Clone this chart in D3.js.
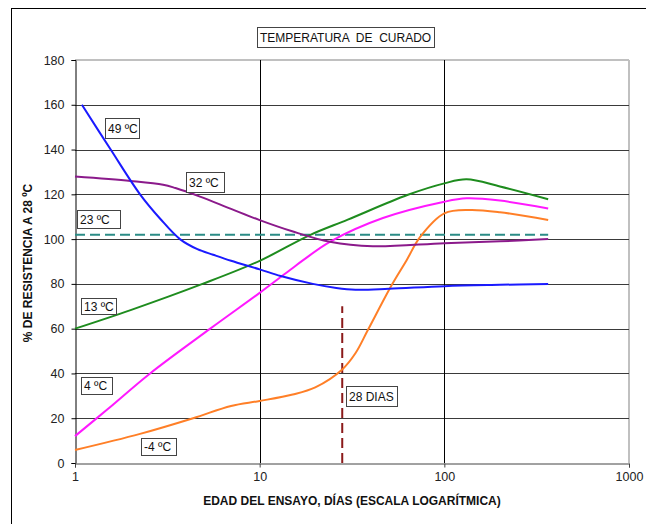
<!DOCTYPE html>
<html><head><meta charset="utf-8">
<script src="https://cdn.jsdelivr.net/npm/d3@7"></script>
<style>body{margin:0;background:#fff}svg{display:block;font-family:"Liberation Sans",Arial,sans-serif}</style>
</head><body><svg id="c" width="646" height="524"></svg>
<script>
const xTicks = [1, 10, 100, 1000];
const yTicks = [0, 20, 40, 60, 80, 100, 120, 140, 160, 180];
const s49 = [[1.09,160],[1.56,140],[2.25,120],[2.9,109],[3.7,100],[4.6,95.5],[5.6,93],[7,90.3],[10,86.5],[13,83.5],[19.4,80],[26,78.2],[33,77.4],[50,77.8],[100,79],[200,79.6],[365,80]];
const s32 = [[1,128],[2,126],[3,124.3],[3.5,122.8],[4.75,119],[7,113.5],[10,108.5],[15,103.5],[24,98.8],[41,96.8],[100,98.2],[200,99],[365,100]];
const s13 = [[1,60],[2,68.3],[4.9,80],[10,90.3],[18.7,101.8],[30,108.7],[63,119.7],[100,124.9],[132,126.7],[200,123.5],[365,117.8]];
const s4 = [[1,12],[1.5,24],[2.55,40],[5.4,60],[10,76],[14.6,86.2],[17.2,90.6],[24,98.8],[46.5,109.4],[100,116.7],[132,118.2],[200,117.2],[365,113.7]];
const sM4 = [[1,5.8],[2.25,13],[4.36,20],[7,25.5],[10,27.7],[15.1,30.6],[20,33.8],[28,41.8],[33,49],[38.6,59.5],[51.9,79.5],[62.5,90.6],[74,101],[100,111.5],[138,113],[200,112],[365,108.5]];
const s23 = [[1,102],[365,102]];
const ref28 = [[28,0],[28,70]];
const seriesNames = ["49 ºC","32 ºC","13 ºC","4 ºC","-4 ºC","23 ºC"];
const titleText = "TEMPERATURA  DE  CURADO";
const xTitle = "EDAD DEL ENSAYO, DÍAS (ESCALA LOGARÍTMICA)";
const yTitle = "% DE RESISTENCIA A 28 ºC";

const svg = d3.select("#c");
const L=75,R=629,T=60,B=463;
const x = d3.scaleLog().domain([1,1000]).range([L,R]);
const y = d3.scaleLinear().domain([0,180]).range([B,T]);

// outer frame
svg.append("rect").attr("x",11.5).attr("y",8.5).attr("width",700).attr("height",600)
  .attr("fill","none").attr("stroke","#000").attr("stroke-width",1);

// plot border top/right
svg.append("line").attr("x1",L).attr("x2",R).attr("y1",T).attr("y2",T).attr("stroke","#c0c0c0").attr("stroke-width",2);
svg.append("line").attr("x1",R).attr("x2",R).attr("y1",T).attr("y2",B).attr("stroke","#c0c0c0").attr("stroke-width",2);

// horizontal grid
svg.append("g").selectAll("line").data(yTicks.filter(d=>d>0&&d<180)).join("line")
  .attr("x1",L).attr("x2",R).attr("y1",d=>Math.round(y(d))+0.5).attr("y2",d=>Math.round(y(d))+0.5)
  .attr("stroke","#3a3a3a").attr("stroke-width",1);
// vertical grid
svg.append("g").selectAll("line").data([10,100]).join("line")
  .attr("x1",d=>Math.round(x(d))+0.5).attr("x2",d=>Math.round(x(d))+0.5).attr("y1",T).attr("y2",B)
  .attr("stroke","#000").attr("stroke-width",1);

// axes
const yAxis = d3.axisLeft(y).tickValues(yTicks).tickSize(4).tickPadding(7).tickFormat(d3.format("d"));
const gy = svg.append("g").attr("transform",`translate(${L+0.5},0)`).call(yAxis);
gy.select(".domain").attr("stroke","#000");
gy.selectAll(".tick line").attr("stroke","#000");
gy.selectAll("text").attr("font-size","12.5px").attr("fill","#222").attr("font-family","Liberation Sans, Arial, sans-serif");

const xAxis = d3.axisBottom(x).tickValues(xTicks).tickSize(4).tickPadding(5).tickFormat(d3.format("d"));
const gx = svg.append("g").attr("transform",`translate(0,${B+0.5})`).call(xAxis);
gx.select(".domain").attr("stroke","#444");
gx.selectAll(".tick line").attr("stroke","#444");
gx.selectAll("text").attr("font-size","12.5px").attr("fill","#222").attr("font-family","Liberation Sans, Arial, sans-serif");

// titles
svg.append("text").attr("x",(L+R)/2).attr("y",505).attr("text-anchor","middle")
  .attr("font-weight","bold").attr("font-size","12px").attr("fill","#111").text(xTitle);
svg.append("text").attr("transform","translate(32,263) rotate(-90)").attr("text-anchor","middle")
  .attr("font-weight","bold").attr("font-size","12px").attr("fill","#111").text(yTitle);

const line = d3.line().x(d=>x(d[0])).y(d=>y(d[1])).curve(d3.curveCatmullRom.alpha(0.5));

// reference lines
svg.append("path").datum(s23).attr("d",d3.line().x(d=>x(d[0])).y(d=>y(d[1]))).attr("fill","none")
  .attr("stroke","#2b8c86").attr("stroke-width",2).attr("stroke-dasharray","10,5");
svg.append("path").datum(ref28).attr("d",d3.line().x(d=>x(d[0])).y(d=>y(d[1]))).attr("fill","none")
  .attr("stroke","#8b1a1a").attr("stroke-width",2).attr("stroke-dasharray","10,5");

const curves = [[sM4,"#ff7f27"],[s4,"#ff19ff"],[s13,"#1e8c1e"],[s32,"#8b1a8b"],[s49,"#1a1aff"]];
curves.forEach(([d,c])=>{
  svg.append("path").datum(d).attr("d",line).attr("fill","none").attr("stroke",c).attr("stroke-width",2);
});

// label boxes
function box(x0,y0,w,h,txt){
  svg.append("rect").attr("x",x0+0.5).attr("y",y0+0.5).attr("width",w).attr("height",h)
    .attr("fill","#fff").attr("stroke","#444").attr("stroke-width",1);
  svg.append("text").attr("x",x0+3).attr("y",y0+h/2+4.5).attr("font-size","12px").attr("fill","#111")
    .style("white-space","pre").text(txt);
}
box(105,118,34,20,seriesNames[0]);
box(186,172,38,20,seriesNames[1]);
box(77,210,43,18,seriesNames[5]);
box(81,298,35,16,seriesNames[2]);
box(81,377,31,17,seriesNames[3]);
box(141,438,35,17,seriesNames[4]);
box(346,386,51,20,"28 DIAS");
box(257,27,177,20,titleText);
</script></body></html>
